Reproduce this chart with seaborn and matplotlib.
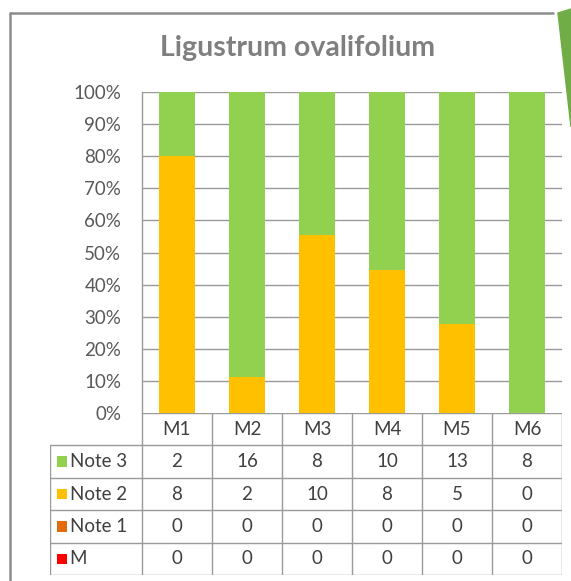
import matplotlib
matplotlib.use('Agg')
import matplotlib.pyplot as plt
import seaborn as sns
import numpy as np
import pandas as pd
from matplotlib.lines import Line2D
from matplotlib.patches import Polygon, Rectangle

# data
sites = ['M1', 'M2', 'M3', 'M4', 'M5', 'M6']
series = ['Note 3', 'Note 2', 'Note 1', 'M']
note3 = [2, 16, 8, 10, 13, 8]
note2 = [8, 2, 10, 8, 5, 0]
note1 = [0, 0, 0, 0, 0, 0]
note_m = [0, 0, 0, 0, 0, 0]
colors = {'Note 3': '#92D050', 'Note 2': '#FFC000', 'Note 1': '#E36C0A', 'M': '#FF0000'}
title = 'Ligustrum ovalifolium'

sns.set_theme(style='white')
plt.rcParams['font.family'] = ['Lato', 'DejaVu Sans']

W, H = 571, 581
fig = plt.figure(figsize=(W / 100, H / 100), dpi=100)


def fx(px):
    return px / W


def fy(py):
    return 1 - py / H


# stacked 100% values, bottom is M, then Note 1, Note 2, Note 3 on top
counts = pd.DataFrame({'Note 3': note3, 'Note 2': note2, 'Note 1': note1, 'M': note_m}, index=sites)
total = counts.sum(axis=1)
pct = counts.div(total, axis=0) * 100
stack_order = ['M', 'Note 1', 'Note 2', 'Note 3']
cum = pct[stack_order].cumsum(axis=1)

ax = fig.add_axes([fx(142), fy(413), fx(562) - fx(142), fy(92) - fy(413)])
for s in reversed(stack_order):
    df = pd.DataFrame({'site': sites, 'val': cum[s].values})
    sns.barplot(data=df, x='site', y='val', color=colors[s], width=0.52,
                saturation=1, linewidth=0, ax=ax, zorder=2)

ax.set_ylim(0, 100)
ax.set_xlim(-0.5, 5.5)
ax.set_yticks(np.arange(0, 101, 10))
ax.set_yticklabels([f'{v}%' for v in range(0, 101, 10)], fontsize=13.5, color='#595959')
ax.tick_params(axis='y', length=0, pad=15)
ax.set_xticks([])
ax.set_xlabel('')
ax.set_ylabel('')
for v in range(10, 101, 10):
    ax.axhline(v, color='#999999', lw=1, zorder=1)
for side in ['top', 'right', 'bottom']:
    ax.spines[side].set_visible(False)
ax.spines['left'].set_color('#999999')
ax.spines['left'].set_linewidth(1)

# data table below the axis: row 0 = site names, rows 1-4 = series
tab = fig.add_axes([fx(50), fy(575), fx(562) - fx(50), fy(413) - fy(575)])
x_left = -0.5 - 92 / 70
lc = '#9a9a9a'
tab.plot([-0.5, 5.5], [0, 0], color=lc, lw=1)
for r in range(1, 6):
    tab.plot([x_left, 5.5], [r, r], color=lc, lw=1)
tab.plot([x_left, x_left], [1, 5], color=lc, lw=1)
for c in range(7):
    tab.plot([c - 0.5, c - 0.5], [0, 5], color=lc, lw=1)
tab.set_xlim(x_left, 5.5)
tab.set_ylim(5, 0)
tab.axis('off')

fs = 13.5
for i, s in enumerate(sites):
    tab.text(i, 0.5, s, ha='center', va='center', fontsize=fs, color='#404040')
rows = {'Note 3': note3, 'Note 2': note2, 'Note 1': note1, 'M': note_m}
for r, s in enumerate(series, start=1):
    yc = r + 0.5
    tab.add_patch(Rectangle((x_left + 0.1, yc - 0.16), 0.14, 0.32,
                            color=colors[s], lw=0))
    tab.text(x_left + 0.28, yc, s, ha='left', va='center', fontsize=fs, color='#404040')
    for i, v in enumerate(rows[s]):
        tab.text(i, yc, str(v), ha='center', va='center', fontsize=fs, color='#404040')

fig.text(fx(298), fy(48), title, ha='center', va='center', fontsize=20.5,
         fontweight='bold', color='#7f7f7f')

# chart frame and green arrow from the slide
fig.add_artist(Line2D([fx(10), fx(10)], [fy(13), fy(581)], color='#8c8c8c', lw=1.8))
fig.add_artist(Line2D([fx(10), fx(553)], [fy(13), fy(13)], color='#8c8c8c', lw=1.8))
fig.add_artist(Polygon([(fx(558), fy(13)), (fx(571), fy(9)), (fx(571), fy(127))],
                       closed=True, color='#70AD47', transform=fig.transFigure))

fig.savefig('out.png', dpi=100)
